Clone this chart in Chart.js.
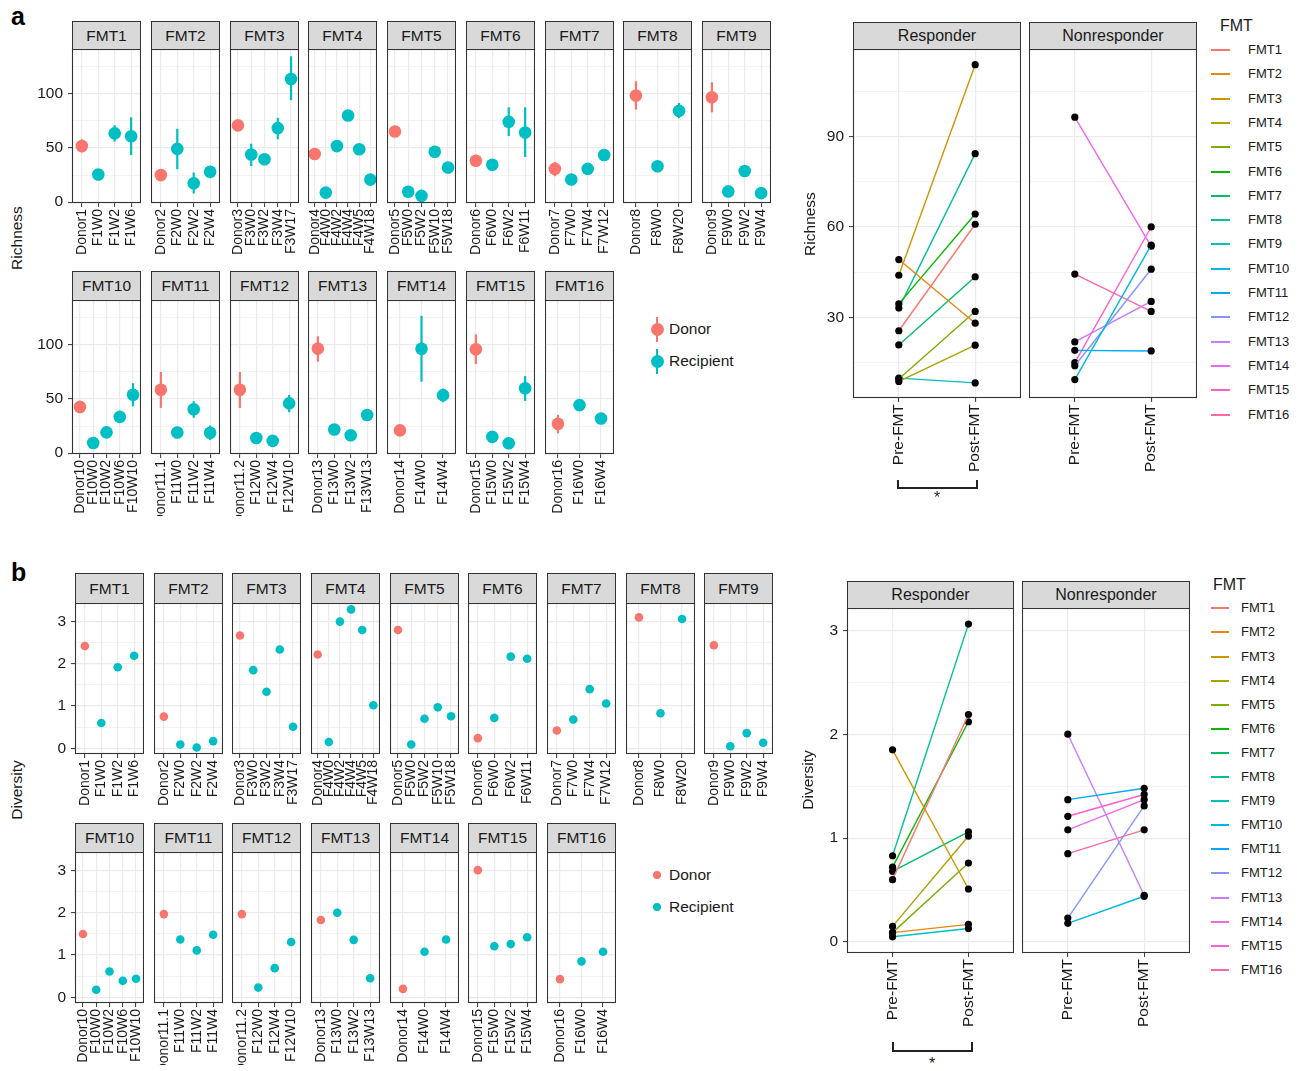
<!DOCTYPE html>
<html>
<head>
<meta charset="utf-8">
<script src="https://cdn.jsdelivr.net/npm/chart.js@4.4.1/dist/chart.umd.min.js"></script>
<style>
body { margin: 0; background: #fff; font-family: "Liberation Sans", Arial, Helvetica, sans-serif; }
#page { position: relative; width: 1299px; height: 1071px; overflow: hidden; background: #fff; }
#page canvas { position: absolute; }
.strip { position: absolute; box-sizing: border-box; background: #d9d9d9; border: 1px solid #333; text-align: center; color: #1a1a1a; font-size: 15.5px; }
.txt { position: absolute; color: #1a1a1a; white-space: nowrap; }
.rot { position: absolute; width: 200px; height: 20px; line-height: 20px; text-align: center; transform: rotate(-90deg); font-size: 15.5px; color: #1a1a1a; }
.sw { position: absolute; height: 2px; }
.dot { position: absolute; border-radius: 50%; }
</style>
</head>
<body>
<div id="page"></div>
<script>
// ---- data ----
const fmtNames = ['FMT1','FMT2','FMT3','FMT4','FMT5','FMT6','FMT7','FMT8','FMT9','FMT10','FMT11','FMT12','FMT13','FMT14','FMT15','FMT16'];
const fmtColors = ['#F8766D','#E68613','#CD9600','#ABA300','#7CAE00','#0CB702','#00BE67','#00C19A','#00BFC4','#00B8E7','#00A9FF','#8494FF','#C77CFF','#ED68ED','#FF61CC','#FF68A1'];

const sampleNames = [
  ['Donor1','F1W0','F1W2','F1W6'],
  ['Donor2','F2W0','F2W2','F2W4'],
  ['Donor3','F3W0','F3W2','F3W4','F3W17'],
  ['Donor4','F4W0','F4W2','F4W4','F4W5','F4W18'],
  ['Donor5','F5W0','F5W2','F5W10','F5W18'],
  ['Donor6','F6W0','F6W2','F6W11'],
  ['Donor7','F7W0','F7W4','F7W12'],
  ['Donor8','F8W0','F8W20'],
  ['Donor9','F9W0','F9W2','F9W4'],
  ['Donor10','F10W0','F10W2','F10W6','F10W10'],
  ['Donor11.1','F11W0','F11W2','F11W4'],
  ['Donor11.2','F12W0','F12W4','F12W10'],
  ['Donor13','F13W0','F13W2','F13W13'],
  ['Donor14','F14W0','F14W4'],
  ['Donor15','F15W0','F15W2','F15W4'],
  ['Donor16','F16W0','F16W4']
];

const richness = [
  [51.8, 25.6, 63.5, 60.9],
  [25, 49.2, 17.5, 28.1],
  [70.9, 44, 39.6, 68.4, 113.8],
  [44.5, 8.8, 51.8, 80, 48.8, 20.8],
  [65.3, 9.6, 5.8, 46.6, 32],
  [38.3, 34.5, 74.2, 64.3],
  [30.7, 20.9, 30.7, 43.5],
  [98.5, 33.1, 84.3],
  [96.9, 9.9, 28.8, 8.3],
  [42.7, 9.4, 19.2, 33.5, 54],
  [58.5, 19.1, 40.5, 18.9],
  [58.5, 14, 11.3, 46],
  [96.6, 21.9, 16.5, 35.3],
  [21, 96.4, 53.6],
  [96, 15, 9.1, 60],
  [27.1, 44.4, 32]
];
const richnessLow = [
  [46, null, 56, 43.6],
  [null, 30.4, 8, 22],
  [null, 33.4, null, 58, 94.2],
  [null, null, null, null, null, null],
  [null, null, null, null, 26.7],
  [null, null, 61, 41.7],
  [24, null, null, null],
  [85.6, null, 77.6],
  [83, null, null, null],
  [null, null, null, null, 43.3],
  [41.8, null, 32.6, 12.2],
  [41.8, null, null, 37.8],
  [84.5, null, null, null],
  [null, 66, 47],
  [82.3, null, null, 48.2],
  [18.3, null, null, null]
];
const richnessHigh = [
  [58, null, 71, 78.5],
  [null, 67.8, 27.3, 33],
  [null, 54, null, 78, 134.7],
  [null, null, null, null, null, null],
  [null, null, null, null, 36.5],
  [null, null, 87.7, 87.7],
  [37, null, null, null],
  [111.7, null, 91.7],
  [110.7, null, null, null],
  [null, null, null, null, 64.6],
  [75, null, 48, 25.6],
  [75, null, null, 53.7],
  [108, null, null, null],
  [null, 127, 59.8],
  [109.8, null, null, 71.3],
  [35.4, null, null, null]
];

const diversity = [
  [2.42, 0.60, 1.92, 2.19],
  [0.75, 0.09, 0.02, 0.17],
  [2.67, 1.85, 1.34, 2.34, 0.51],
  [2.22, 0.15, 3.00, 3.29, 2.80, 1.02],
  [2.80, 0.09, 0.70, 0.97, 0.76],
  [0.24, 0.72, 2.17, 2.12],
  [0.42, 0.68, 1.40, 1.06],
  [3.10, 0.83, 3.06],
  [2.44, 0.05, 0.36, 0.13],
  [1.50, 0.18, 0.61, 0.39, 0.44],
  [1.97, 1.37, 1.11, 1.48],
  [1.97, 0.23, 0.69, 1.31],
  [1.83, 2.00, 1.36, 0.45],
  [0.20, 1.08, 1.37],
  [3.01, 1.21, 1.26, 1.42],
  [0.43, 0.85, 1.08]
];

// paired pre/post values (right-hand panels)
const responder = [true,true,true,true,true,true,true,true,true,false,false,false,false,false,false,false];
const richPre  = [25.6, 49.2, 44, 8.8, 9.6, 34.5, 20.9, 33.1, 9.9, 9.4, 19.1, 14, 21.9, 96.4, 15, 44.4];
const richPost = [60.9, 28.1, 113.8, 20.8, 32, 64.3, 43.5, 84.3, 8.3, 54, 18.9, 46, 35.3, 53.6, 60, 32];
const divPre   = [0.60, 0.09, 1.85, 0.15, 0.09, 0.72, 0.68, 0.83, 0.05, 0.18, 1.37, 0.23, 2.00, 1.08, 1.21, 0.85];
const divPost  = [2.19, 0.17, 0.51, 1.02, 0.76, 2.12, 1.06, 3.06, 0.13, 0.44, 1.48, 1.31, 0.45, 1.37, 1.42, 1.08];
const pairLabels = ['Pre-FMT', 'Post-FMT'];

const richTicks = [0, 25, 50, 75, 100, 125];
const richMajor = [0, 50, 100];
const divTicks = [0, 0.5, 1, 1.5, 2, 2.5, 3];
const divMajor = [0, 1, 2, 3];
const pairRichTicks = [15, 30, 45, 60, 75, 90, 105];
const pairRichMajor = [30, 60, 90];

const DONOR = '#F8766D';
const RECIP = '#00BFC4';
const FONT = "'Liberation Sans', Arial, Helvetica, sans-serif";
const page = document.getElementById('page');

function addEl(cls, css, text) {
  const d = document.createElement('div');
  d.className = cls;
  Object.assign(d.style, css);
  if (text != null) d.textContent = text;
  page.appendChild(d);
  return d;
}

const boxPlugin = {
  id: 'box',
  afterDraw(chart) {
    const a = chart.chartArea, c = chart.ctx;
    c.save();
    c.strokeStyle = '#333';
    c.lineWidth = 1.1;
    c.strokeRect(a.left + 0.5, a.top + 0.5, a.right - a.left - 1, a.bottom - a.top - 1);
    c.restore();
  }
};

function makeChart(p) {
  const cv = document.createElement('canvas');
  cv.width = p.yw + p.w;
  cv.height = p.h + p.xh;
  cv.style.left = (p.left - p.yw) + 'px';
  cv.style.top = p.top + 'px';
  page.appendChild(cv);
  new Chart(cv, {
    type: 'scatter',
    data: { datasets: p.datasets },
    options: {
      responsive: false,
      animation: false,
      events: [],
      layout: { padding: 0, autoPadding: false },
      plugins: { legend: { display: false }, tooltip: { enabled: false } },
      scales: {
        x: {
          type: 'linear', min: p.xMin, max: p.xMax, bounds: 'data',
          afterBuildTicks: ax => { ax.ticks = p.xLabels.map((_, i) => ({ value: i + 1 })); },
          ticks: {
            autoSkip: false, maxRotation: 90, minRotation: 90, padding: 2,
            color: '#1a1a1a', font: { family: FONT, size: p.xFont },
            callback: v => p.xLabels[v - 1]
          },
          grid: { color: '#ebebeb', lineWidth: 1.2, tickColor: '#333', tickLength: 4, tickWidth: 1 },
          border: { display: false },
          afterFit: ax => { ax.height = p.xh; ax.paddingLeft = 0; ax.paddingRight = 0; }
        },
        y: {
          type: 'linear', min: p.yMin, max: p.yMax, bounds: 'data',
          afterBuildTicks: ax => { ax.ticks = p.yTicks.map(v => ({ value: v })); },
          ticks: {
            display: p.showY, padding: 5, color: '#1a1a1a', font: { family: FONT, size: 15.5 },
            callback: v => p.yMajor.includes(v) ? String(v) : ''
          },
          grid: {
            color: '#ebebeb',
            lineWidth: c => p.yMajor.includes(c.tick.value) ? 1.2 : 0.6,
            drawTicks: p.showY, tickLength: 4, tickWidth: 1,
            tickColor: c => p.yMajor.includes(c.tick.value) ? '#333' : 'rgba(0,0,0,0)'
          },
          border: { display: false },
          afterFit: ax => { ax.width = p.yw; ax.paddingTop = 0; ax.paddingBottom = 0; }
        }
      }
    },
    plugins: [boxPlugin]
  });
}

function errSegs(lo, hi, pick) {
  const d = [];
  lo.forEach((l, i) => {
    if (l != null && pick(i)) d.push({ x: i + 1, y: l }, { x: i + 1, y: hi[i] }, { x: i + 1, y: null });
  });
  return d;
}

function facet(k, left, stripTop, plotTop, h, values, lo, hi, yMin, yMax, yTicks, yMajor, radius, showY) {
  const labels = sampleNames[k];
  const w = 69;
  addEl('strip', { left: left + 'px', top: stripTop + 'px', width: w + 'px', height: (plotTop - stripTop + 1) + 'px', lineHeight: (plotTop - stripTop - 1) + 'px' }, fmtNames[k]);
  const datasets = [{
    data: values.map((v, i) => ({ x: i + 1, y: v })),
    pointRadius: radius,
    pointBackgroundColor: values.map((_, i) => i === 0 ? DONOR : RECIP),
    pointBorderWidth: 0,
    showLine: false
  }];
  if (lo) {
    datasets.push({ data: errSegs(lo, hi, i => i === 0), showLine: true, spanGaps: false, borderColor: DONOR, borderWidth: 2.2, pointRadius: 0 });
    datasets.push({ data: errSegs(lo, hi, i => i > 0), showLine: true, spanGaps: false, borderColor: RECIP, borderWidth: 2.2, pointRadius: 0 });
  }
  makeChart({
    left, top: plotTop, w, h, yw: showY ? 40 : 0, xh: 62,
    datasets, xLabels: labels, xMin: 0.4, xMax: labels.length + 0.6, xFont: 14,
    yMin, yMax, yTicks, yMajor, showY
  });
}

// ---- panel a (richness) facets ----
for (let k = 0; k < 16; k++) {
  const row = k < 9 ? 0 : 1;
  const col = row === 0 ? k : k - 9;
  const left = Math.round(72 + col * 78.75);
  const stripTop = row === 0 ? 21 : 271;
  const plotTop = row === 0 ? 49 : 300;
  facet(k, left, stripTop, plotTop, 154, richness[k], richnessLow[k], richnessHigh[k], -0.8, 141.5, richTicks, richMajor, 6.3, col === 0);
}

// ---- panel b (diversity) facets ----
for (let k = 0; k < 16; k++) {
  const row = k < 9 ? 0 : 1;
  const col = row === 0 ? k : k - 9;
  const left = Math.round(75 + col * 78.65);
  const stripTop = row === 0 ? 573 : 823;
  const plotTop = row === 0 ? 603 : 852;
  facet(k, left, stripTop, plotTop, 151, diversity[k], null, null, -0.135, 3.44, divTicks, divMajor, 4.3, col === 0);
}

// ---- paired pre/post panels ----
function paired(left, w, stripTop, plotTop, h, title, isResp, pre, post, yMin, yMax, yTicks, yMajor, showY) {
  addEl('strip', { left: left + 'px', top: stripTop + 'px', width: w + 'px', height: (plotTop - stripTop + 1) + 'px', lineHeight: (plotTop - stripTop - 1) + 'px', fontSize: '16px' }, title);
  const datasets = [];
  fmtNames.forEach((n, i) => {
    if (responder[i] !== isResp) return;
    datasets.push({
      label: n,
      data: [{ x: 1, y: pre[i] }, { x: 2, y: post[i] }],
      showLine: true, borderColor: fmtColors[i], borderWidth: 1.4,
      pointRadius: 3.6, pointBackgroundColor: '#000', pointBorderWidth: 0
    });
  });
  makeChart({
    left, top: plotTop, w, h, yw: showY ? 42 : 0, xh: 85,
    datasets, xLabels: pairLabels, xMin: 0.4, xMax: 2.6, xFont: 15.5,
    yMin, yMax, yTicks, yMajor, showY
  });
}

paired(853, 168, 22, 49, 349, 'Responder', true, richPre, richPost, 3.3, 119, pairRichTicks, pairRichMajor, true);
paired(1029, 168, 22, 49, 349, 'Nonresponder', false, richPre, richPost, 3.3, 119, pairRichTicks, pairRichMajor, false);
paired(847, 167, 581, 608, 345, 'Responder', true, divPre, divPost, -0.106, 3.215, divTicks, divMajor, true);
paired(1022, 168, 581, 608, 345, 'Nonresponder', false, divPre, divPost, -0.106, 3.215, divTicks, divMajor, false);

// ---- text, legends, annotations ----
addEl('txt', { left: '11px', top: '4px', fontSize: '25px', lineHeight: '25px', fontWeight: 'bold', color: '#000' }, 'a');
addEl('txt', { left: '11px', top: '560px', fontSize: '25px', lineHeight: '25px', fontWeight: 'bold', color: '#000' }, 'b');

function yTitle(cx, cy, text) {
  addEl('rot', { left: (cx - 100) + 'px', top: (cy - 10) + 'px' }, text);
}
yTitle(17, 238, 'Richness');
yTitle(17, 790, 'Diversity');
yTitle(810, 224, 'Richness');
yTitle(808, 780, 'Diversity');

// donor / recipient legends
function drLegend(cx, ys, r, withBar) {
  ['Donor', 'Recipient'].forEach((t, i) => {
    const col = i === 0 ? DONOR : RECIP;
    const cy = ys[i];
    if (withBar) addEl('sw', { left: (cx - 1) + 'px', top: (cy - 12) + 'px', width: '2px', height: '25px', background: col });
    addEl('dot', { left: (cx - r) + 'px', top: (cy - r) + 'px', width: (2 * r) + 'px', height: (2 * r) + 'px', background: col });
    addEl('txt', { left: '669px', top: (cy - 10) + 'px', fontSize: '15.5px', lineHeight: '20px' }, t);
  });
}
drLegend(657, [329, 361], 6.5, true);
drLegend(657, [875, 907], 4.3, false);

// FMT colour legends
function fmtLegend(titleX, titleY, lineX, lineW, textX, y0, step) {
  addEl('txt', { left: titleX + 'px', top: (titleY - 10) + 'px', fontSize: '16px', lineHeight: '20px' }, 'FMT');
  fmtNames.forEach((n, i) => {
    const cy = y0 + i * step;
    addEl('sw', { left: lineX + 'px', top: Math.round(cy - 1) + 'px', width: lineW + 'px', background: fmtColors[i] });
    addEl('txt', { left: textX + 'px', top: (cy - 8) + 'px', fontSize: '13px', lineHeight: '16px' }, n);
  });
}
fmtLegend(1220, 26, 1211, 19, 1248, 50, 24.3);
fmtLegend(1213, 585, 1211, 18, 1241, 608.3, 24.1);

// significance brackets
function bracket(x, y, w, h, sx, sy) {
  addEl('sw', { left: x + 'px', top: y + 'px', width: w + 'px', height: h + 'px', background: 'transparent', borderLeft: '2px solid #222', borderRight: '2px solid #222', borderBottom: '2px solid #222', boxSizing: 'border-box' });
  addEl('txt', { left: (sx - 5) + 'px', top: (sy - 8) + 'px', fontSize: '16px', lineHeight: '20px', width: '10px', textAlign: 'center' }, '*');
}
bracket(897, 480, 81, 9, 937, 496);
bracket(892, 1042, 81, 10, 932, 1062);
</script>
</body>
</html>
